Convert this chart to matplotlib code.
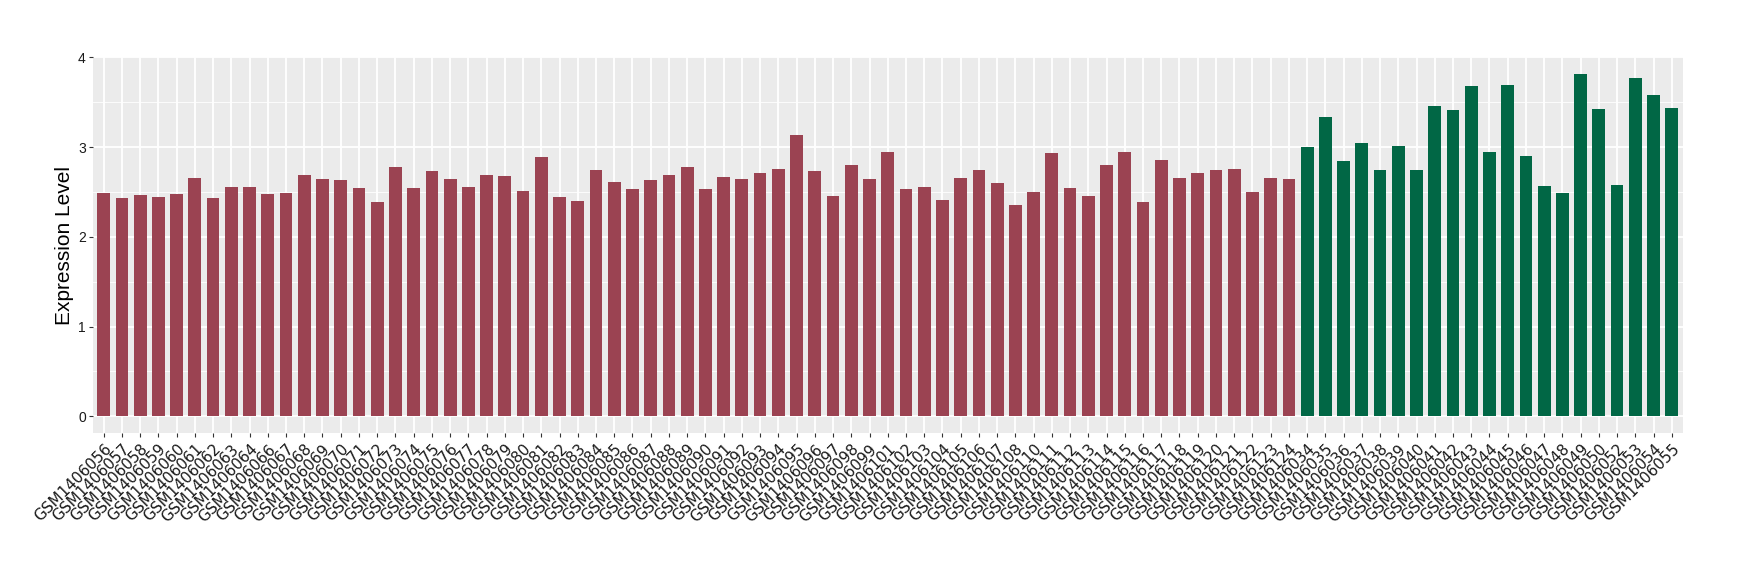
import matplotlib.pyplot as plt
from matplotlib.ticker import MultipleLocator

# sample ids and expression values
group_a_ids = ["056", "057", "058", "059", "060", "061", "062", "063", "064", "066",
               "067", "068", "069", "070", "071", "072", "073", "074", "075", "076",
               "077", "078", "079", "080", "081", "082", "083", "084", "085", "086",
               "087", "088", "089", "090", "091", "092", "093", "094", "095", "096",
               "097", "098", "099", "101", "102", "103", "104", "105", "106", "107",
               "108", "110", "111", "112", "113", "114", "115", "116", "117", "118",
               "119", "120", "121", "122", "123", "124"]
group_a_values = [2.49, 2.43, 2.47, 2.44, 2.48, 2.66, 2.43, 2.55, 2.55, 2.48,
                  2.49, 2.69, 2.65, 2.63, 2.54, 2.39, 2.78, 2.54, 2.73, 2.65,
                  2.56, 2.69, 2.68, 2.51, 2.89, 2.44, 2.40, 2.74, 2.61, 2.53,
                  2.63, 2.69, 2.78, 2.53, 2.67, 2.64, 2.71, 2.76, 3.14, 2.73,
                  2.46, 2.80, 2.65, 2.95, 2.53, 2.55, 2.41, 2.66, 2.75, 2.60,
                  2.36, 2.50, 2.94, 2.54, 2.46, 2.80, 2.95, 2.39, 2.86, 2.66,
                  2.71, 2.75, 2.76, 2.50, 2.66, 2.65]

group_b_ids = ["034", "035", "036", "037", "038", "039", "040", "041", "042", "043",
               "044", "045", "046", "047", "048", "049", "050", "052", "053", "054",
               "055"]
group_b_values = [3.00, 3.34, 2.84, 3.05, 2.74, 3.01, 2.75, 3.46, 3.41, 3.68,
                  2.95, 3.69, 2.90, 2.57, 2.49, 3.81, 3.43, 2.58, 3.77, 3.58,
                  3.44]

color_a = "#9B4352"
color_b = "#016745"

labels = ["GSM1406" + s for s in group_a_ids + group_b_ids]
values = group_a_values + group_b_values
colors = [color_a] * len(group_a_values) + [color_b] * len(group_b_values)
x = list(range(len(labels)))

fig = plt.figure(figsize=(17.4, 5.8), dpi=100)
ax = fig.add_axes([0.0533, 0.253, 0.9138, 0.648])
ax.set_facecolor("#EBEBEB")

ax.bar(x, values, width=0.7, color=colors, zorder=3)

# ggplot-like grid
ax.yaxis.set_major_locator(MultipleLocator(1))
ax.yaxis.set_minor_locator(MultipleLocator(0.5))
ax.grid(which="major", color="white", linewidth=1.3, zorder=0)
ax.grid(which="minor", axis="y", color="white", linewidth=0.6, zorder=0)

ax.set_xlim(-0.6, len(labels) - 1 + 0.6)
ax.set_ylim(-0.19, 4.0)

ax.set_xticks(x)
ax.set_xticklabels(labels, rotation=45, ha="right", va="top",
                   rotation_mode="anchor", fontsize=11, color="#1a1a1a")
ax.tick_params(axis="both", which="major", length=3, width=0.8, color="#333333")
ax.tick_params(axis="y", which="minor", length=0)
ax.tick_params(axis="y", labelsize=10, labelcolor="#1a1a1a", pad=2)
ax.tick_params(axis="x", pad=3)

for lab in ax.get_yticklabels():
    lab.set_family("Liberation Sans")

ax.set_ylabel("Expression Level", fontsize=15, family="Liberation Sans",
              labelpad=3)

for spine in ax.spines.values():
    spine.set_visible(False)

fig.savefig("out.png", dpi=100)
